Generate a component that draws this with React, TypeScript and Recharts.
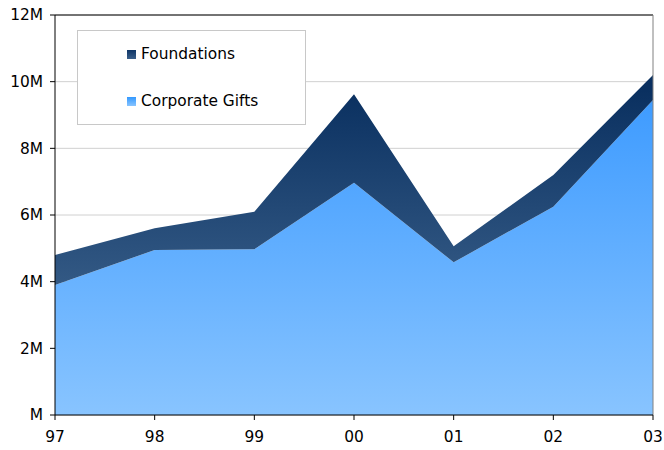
import { Area, AreaChart, CartesianGrid, ReferenceLine, XAxis, YAxis } from "recharts";

const YEARS = ["97", "98", "99", "00", "01", "02", "03"];
const CORPORATE = [3.9, 4.95, 4.97, 6.97, 4.58, 6.25, 9.45];
const FOUNDATIONS = [0.9, 0.65, 1.13, 2.65, 0.48, 0.95, 0.75];
const Y_TICKS = [0, 2, 4, 6, 8, 10, 12];

const data = YEARS.map((year, i) => ({
  year,
  corporate: CORPORATE[i],
  foundations: FOUNDATIONS[i],
}));

const FONT = "'DejaVu Sans', Verdana, sans-serif";
const FONT_SIZE = 15.4;

function LegendBox() {
  const items = [
    { label: "Foundations", from: "#0f3566", to: "#3a5f8a" },
    { label: "Corporate Gifts", from: "#3399ff", to: "#88c4ff" },
  ];
  return (
    <div
      style={{
        position: "absolute",
        left: 77,
        top: 30,
        width: 227,
        height: 93,
        border: "1px solid #c8c8c8",
        background: "#fff",
        fontFamily: FONT,
        fontSize: FONT_SIZE,
        color: "#000",
      }}
    >
      {items.map((it, i) => (
        <div
          key={it.label}
          style={{
            position: "absolute",
            left: 49,
            top: i === 0 ? 14 : 61,
            display: "flex",
            alignItems: "center",
            gap: 5,
            lineHeight: "18px",
          }}
        >
          <span
            style={{
              width: 9,
              height: 9,
              background: `linear-gradient(${it.from}, ${it.to})`,
              display: "inline-block",
            }}
          />
          {it.label}
        </div>
      ))}
    </div>
  );
}

export default function App() {
  return (
    <div style={{ position: "absolute", left: 0, top: 0, width: 664, height: 450 }}>
      <AreaChart
        width={664}
        height={450}
        data={data}
        margin={{ top: 15, right: 11, left: 0, bottom: 0 }}
      >
        <defs>
          <linearGradient id="gradCorp" gradientUnits="userSpaceOnUse" x1="0" y1="15" x2="0" y2="415">
            <stop offset="0%" stopColor="#2a90ff" />
            <stop offset="100%" stopColor="#88c4ff" />
          </linearGradient>
          <linearGradient id="gradFound" gradientUnits="userSpaceOnUse" x1="0" y1="90" x2="0" y2="290">
            <stop offset="0%" stopColor="#0a3060" />
            <stop offset="100%" stopColor="#345a85" />
          </linearGradient>
        </defs>
        <CartesianGrid vertical={false} stroke="#d0d0d0" strokeWidth={1} />
        <XAxis
          dataKey="year"
          height={35}
          stroke="#000"
          tickSize={5}
          tickMargin={11}
          tick={{ fill: "#000", fontSize: FONT_SIZE, fontFamily: FONT }}
          interval={0}
        />
        <YAxis
          width={55}
          domain={[0, 12]}
          ticks={Y_TICKS}
          stroke="#000"
          tickSize={5}
          tickMargin={7}
          tickFormatter={(v: number) => (v === 0 ? "M" : `${v}M`)}
          tick={{ fill: "#000", fontSize: FONT_SIZE, fontFamily: FONT }}
        />
        <ReferenceLine y={12} stroke="#000" strokeWidth={1} />
        <ReferenceLine x="03" stroke="#808080" strokeWidth={1} />
        <Area
          type="linear"
          dataKey="corporate"
          stackId="1"
          stroke="none"
          fill="url(#gradCorp)"
          fillOpacity={1}
          isAnimationActive={false}
        />
        <Area
          type="linear"
          dataKey="foundations"
          stackId="1"
          stroke="none"
          fill="url(#gradFound)"
          fillOpacity={1}
          isAnimationActive={false}
        />
      </AreaChart>
      <LegendBox />
    </div>
  );
}
